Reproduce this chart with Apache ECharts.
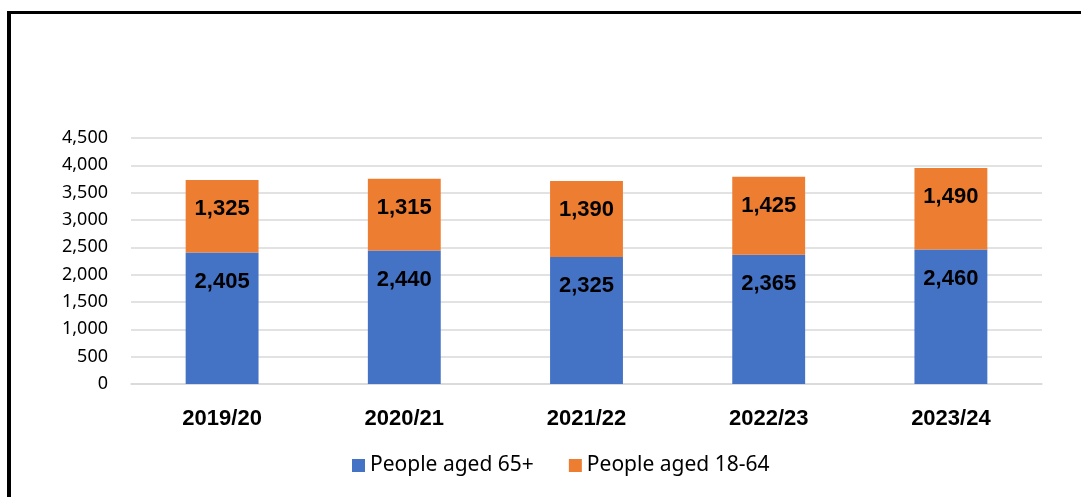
<!DOCTYPE html>
<html>
<head>
<meta charset="utf-8">
<script src="https://cdn.jsdelivr.net/npm/echarts@6/dist/echarts.min.js"></script>
<style>
  html, body { margin: 0; padding: 0; background: #fff; }
  #wrap { position: relative; width: 1081px; height: 497px; overflow: hidden; }
  #frame { position: absolute; left: 7px; top: 11px; width: 1200px; height: 600px;
           border-left: 4px solid #000; border-top: 3px solid #000; }
  #main { position: absolute; left: 0; top: 0; width: 1081px; height: 497px; }
</style>
</head>
<body>
<div id="wrap">
  <div id="frame"></div>
  <div id="main"></div>
</div>
<script>
// years shown on the x axis
var categories = ['2019/20', '2020/21', '2021/22', '2022/23', '2023/24'];
var aged65 = [2405, 2440, 2325, 2365, 2460];
var aged1864 = [1325, 1315, 1390, 1425, 1490];
var seriesNames = ['People aged 65+', 'People aged 18-64'];

var myChart = echarts.init(document.getElementById('main'));

var labelStyle = {
    show: true,
    position: 'insideTop',
    distance: 18,
    color: '#000',
    fontFamily: 'Arial, "Liberation Sans"',
    fontWeight: 'bold',
    fontSize: 22,
    formatter: function (p) { return p.value.toLocaleString('en-US'); }
};

var option = {
    animation: false,
    color: ['#4472C4', '#ED7D31'],
    grid: { left: 131, right: 39, top: 138, bottom: 113 },
    legend: {
        bottom: 16,
        left: 347,
        itemWidth: 13,
        itemHeight: 13,
        itemGap: 35,
        icon: 'rect',
        textStyle: { fontFamily: '"Noto Sans"', fontSize: 21, color: '#000' },
        data: seriesNames
    },
    xAxis: {
        type: 'category',
        data: categories,
        axisTick: { show: false },
        axisLine: { lineStyle: { color: '#d9d9d9', width: 1.5 } },
        axisLabel: {
            margin: 24,
            color: '#000',
            fontFamily: 'Arial, "Liberation Sans"',
            fontWeight: 'bold',
            fontSize: 22
        }
    },
    yAxis: {
        type: 'value',
        min: 0,
        max: 4500,
        interval: 500,
        axisLabel: {
            margin: 23,
            color: '#000',
            fontFamily: '"Noto Sans"',
            fontSize: 18,
            formatter: function (v) { return v.toLocaleString('en-US'); }
        },
        splitLine: { lineStyle: { color: '#d9d9d9', width: 1.5 } }
    },
    series: [
        {
            name: seriesNames[0],
            type: 'bar',
            stack: 'total',
            barWidth: '40%',
            data: aged65,
            label: labelStyle
        },
        {
            name: seriesNames[1],
            type: 'bar',
            stack: 'total',
            barWidth: '40%',
            data: aged1864,
            label: labelStyle
        }
    ]
};
myChart.setOption(option);
</script>
</body>
</html>
